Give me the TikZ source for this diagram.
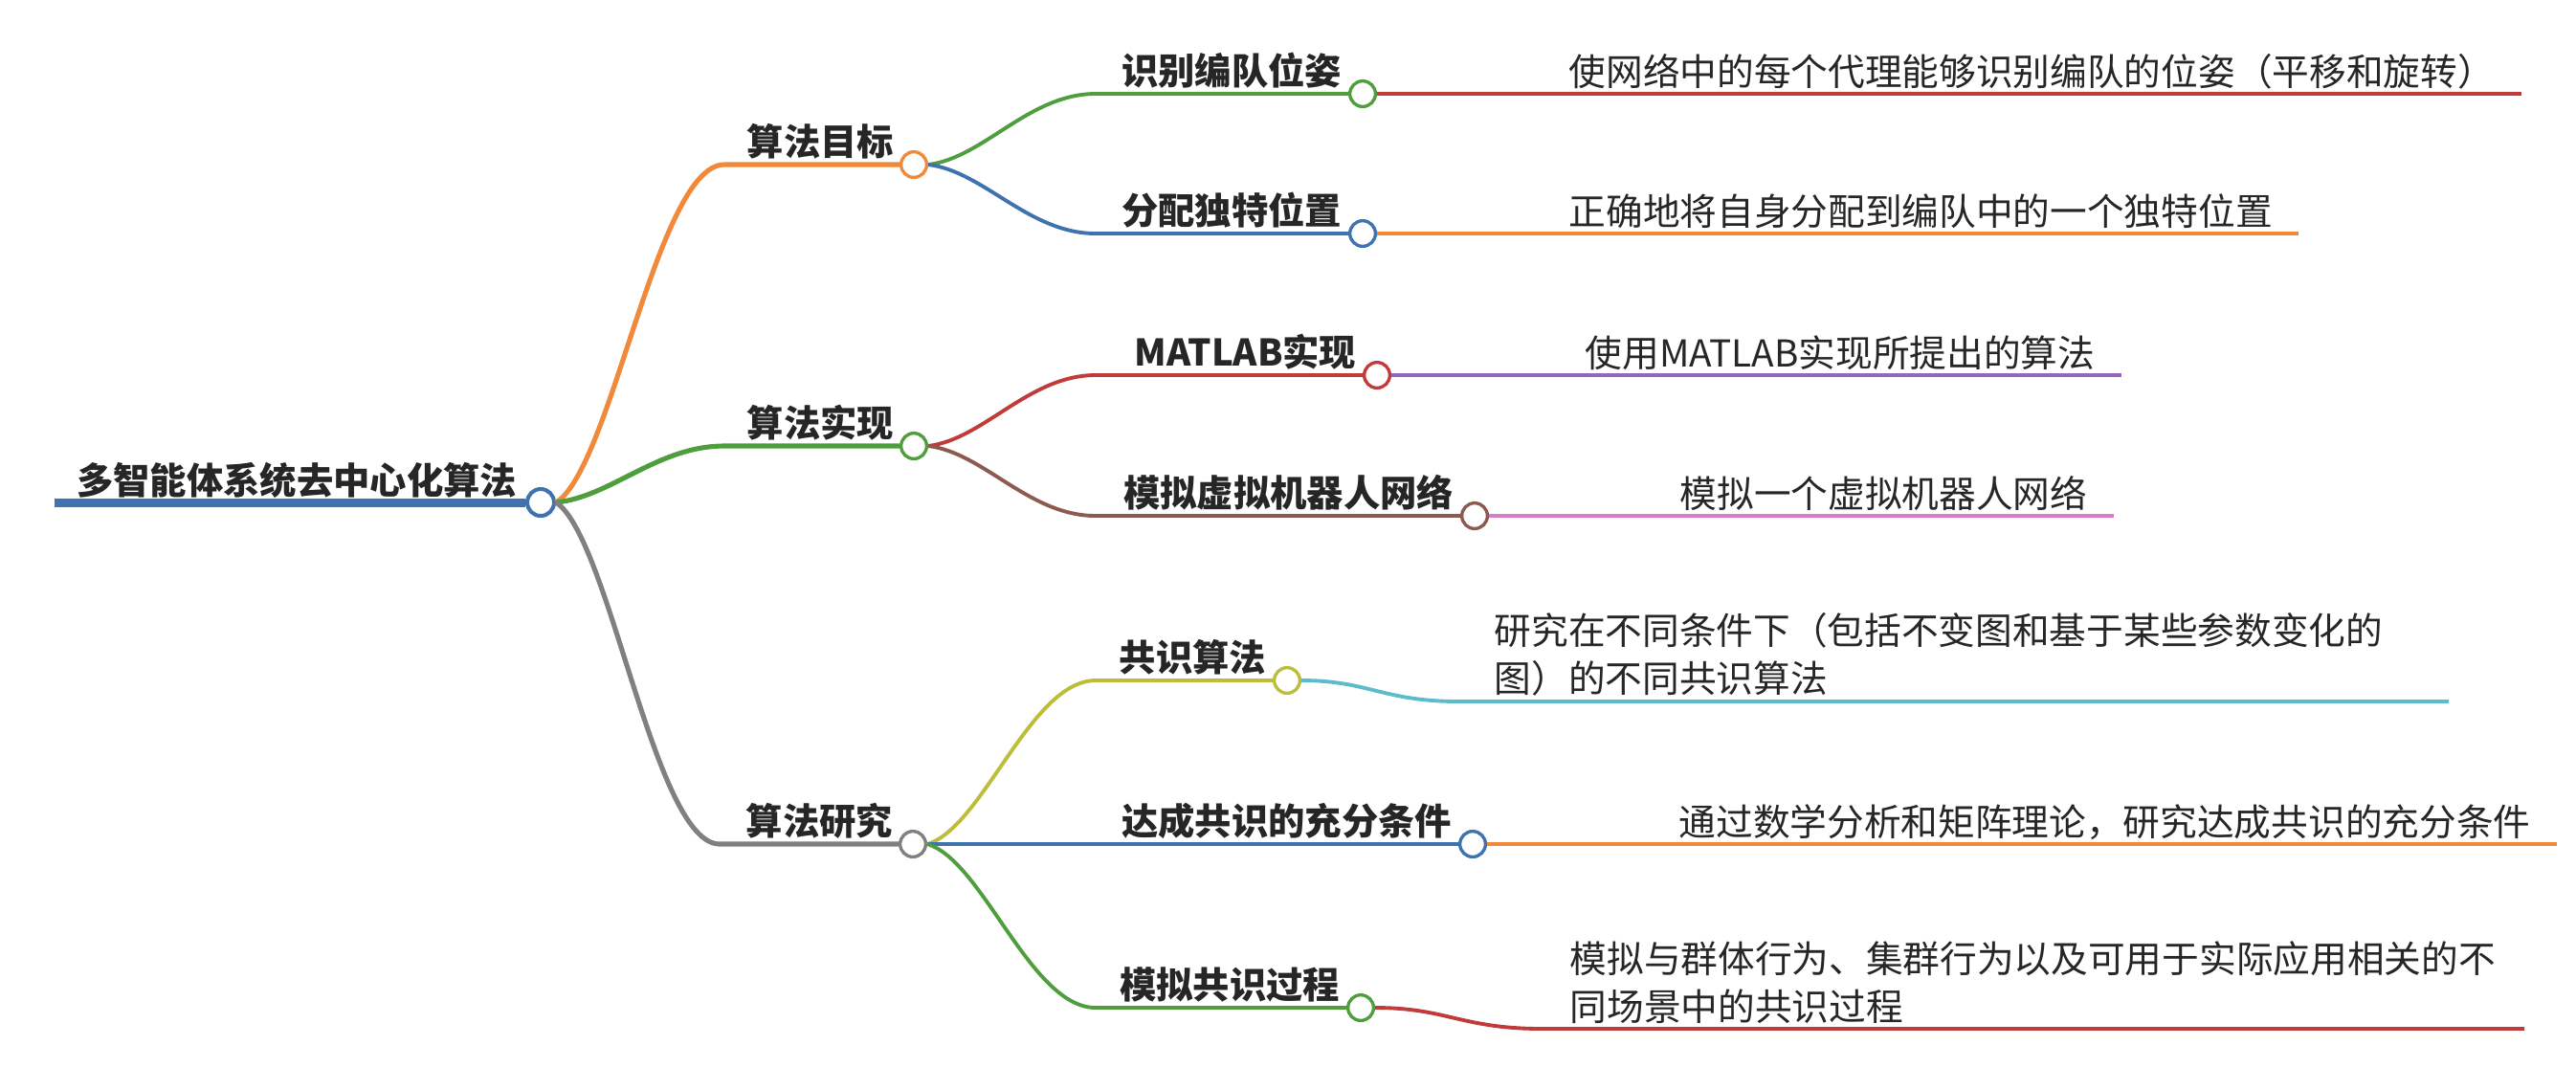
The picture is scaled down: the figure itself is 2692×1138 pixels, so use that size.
\documentclass[tikz,border=0pt]{standalone}
\usepackage{fontspec}
\setmainfont{Noto Sans CJK SC}
\usepackage{tikz}
\usetikzlibrary{positioning,calc}
\definecolor{mapblue}{HTML}{3F73AF}
\definecolor{maporange}{HTML}{F08A3A}
\definecolor{mapgreen}{HTML}{4F9E3E}
\definecolor{mapred}{HTML}{C23B3B}
\definecolor{mappurple}{HTML}{9467BD}
\definecolor{mapbrown}{HTML}{8C5A4E}
\definecolor{mappink}{HTML}{D97DC6}
\definecolor{mapgray}{HTML}{808080}
\definecolor{mapolive}{HTML}{BDBD3C}
\definecolor{mapcyan}{HTML}{5BBDCB}
\definecolor{maptext}{HTML}{262626}

\begin{document}
\begin{tikzpicture}[
  x=0.01cm, y=-0.01cm,
  dot/.style={circle, draw, fill=white, line width=0.95pt, minimum size=0.267cm, inner sep=0pt},
  topic/.style={font=\fontsize{10.9}{13}\selectfont\bfseries, text=maptext, inner sep=0pt, anchor=base east},
  leaf/.style={font=\fontsize{11}{14.2}\selectfont, text=maptext, inner sep=0pt, anchor=base west},
  wrapleaf/.style={leaf, anchor=south west, text width=9.96cm, align=left},
  trunk/.style={line width=1.45pt},
  twig/.style={line width=1.1pt}
]

\useasboundingbox (0,0) rectangle (2692,1138);

% central topic
\node[dot, draw=mapblue, line width=1.15pt, minimum size=0.28cm] (root) at (565,525) {};
\node[topic] (roottxt) at ($(root.west)+(-8,-9)$) {多智能体系统去中心化算法};
\coordinate (rootend) at (57,525);
\draw[line width=2.55pt, mapblue] (rootend) -- (root);

% main branches
\node[dot, draw=maporange] (goal) at (955,172) {};
\node[dot, draw=mapgreen] (impl) at (955,466) {};
\node[dot, draw=mapgray] (study) at (954,882) {};
\node[topic] (goaltxt) at ($(goal.west)+(-5,-10)$) {算法目标};
\node[topic] (impltxt) at ($(impl.west)+(-5,-10)$) {算法实现};
\node[topic] (studytxt) at ($(study.west)+(-5,-10)$) {算法研究};
\coordinate (goalk) at (757,172);
\coordinate (implk) at (757,466);
\coordinate (studyk) at (752,882);

\draw[trunk, maporange] (root.east) .. controls +(58,-35) and +(-70,0) .. (goalk) -- (goal);
\draw[trunk, mapgreen] (root.east) .. controls +(58,-6) and +(-70,0) .. (implk) -- (impl);
\draw[trunk, mapgray] (root.east) .. controls +(56,36) and +(-68,0) .. (studyk) -- (study);

% sub topics
\node[dot, draw=mapgreen] (pose) at (1424,98) {};
\node[dot, draw=mapblue] (slot) at (1424,244) {};
\node[dot, draw=mapred] (matlab) at (1439,392) {};
\node[dot, draw=mapbrown] (robots) at (1541,539) {};
\node[dot, draw=mapolive] (consensus) at (1345,711) {};
\node[dot, draw=mapblue] (suffcond) at (1539,882) {};
\node[dot, draw=mapgreen] (simproc) at (1422,1053) {};

\node[topic] (posetxt) at ($(pose.west)+(-6,-10)$) {识别编队位姿};
\node[topic] (slottxt) at ($(slot.west)+(-6,-10)$) {分配独特位置};
\node[topic] (matlabtxt) at ($(matlab.west)+(-6,-10)$) {MATLAB实现};
\node[topic] (robotstxt) at ($(robots.west)+(-6,-10)$) {模拟虚拟机器人网络};
\node[topic] (consensustxt) at ($(consensus.west)+(-6,-10)$) {共识算法};
\node[topic] (suffcondtxt) at ($(suffcond.west)+(-6,-10)$) {达成共识的充分条件};
\node[topic] (simproctxt) at ($(simproc.west)+(-6,-10)$) {模拟共识过程};

\coordinate (posek) at (1145,98);
\coordinate (slotk) at (1145,244);
\coordinate (matlabk) at (1145,392);
\coordinate (robotsk) at (1145,539);
\coordinate (consensusk) at (1145,711);
\coordinate (simprock) at (1145,1053);

\draw[twig, mapgreen] (goal.east) .. controls +(58,-7) and +(-70,0) .. (posek) -- (pose);
\draw[twig, mapblue] (goal.east) .. controls +(58,7) and +(-70,0) .. (slotk) -- (slot);
\draw[twig, mapred] (impl.east) .. controls +(58,-7) and +(-70,0) .. (matlabk) -- (matlab);
\draw[twig, mapbrown] (impl.east) .. controls +(58,7) and +(-70,0) .. (robotsk) -- (robots);
\draw[twig, mapolive] (study.east) .. controls +(58,-17) and +(-68,0) .. (consensusk) -- (consensus);
\draw[twig, mapblue] (study) -- (suffcond);
\draw[twig, mapgreen] (study.east) .. controls +(58,17) and +(-68,0) .. (simprock) -- (simproc);

% details
\node[leaf] (posetip) at ($(pose.center)+(215,-9)$) {使网络中的每个代理能够识别编队的位姿（平移和旋转）};
\node[leaf] (slottip) at ($(slot.center)+(215,-9)$) {正确地将自身分配到编队中的一个独特位置};
\node[leaf] (matlabtip) at ($(matlab.center)+(217,-9)$) {使用MATLAB实现所提出的算法};
\node[leaf] (robotstip) at ($(robots.center)+(214,-9)$) {模拟一个虚拟机器人网络};
\node[wrapleaf] (consensustip) at ($(consensus.center)+(216,17)$) {研究在不同条件下（包括不变图和基于某些参数变化的\\图）的不同共识算法};
\node[leaf] (suffcondtip) at ($(suffcond.center)+(215,-9)$) {通过数学分析和矩阵理论，研究达成共识的充分条件};
\node[wrapleaf] (simproctip) at ($(simproc.center)+(218,17)$) {模拟与群体行为、集群行为以及可用于实际应用相关的不\\同场景中的共识过程};

\coordinate (poseend) at ($(posetip.base east)+(27,9)$);
\coordinate (slotend) at ($(slottip.base east)+(27,9)$);
\coordinate (matlabend) at ($(matlabtip.base east)+(27,9)$);
\coordinate (robotsend) at ($(robotstip.base east)+(27,9)$);
\coordinate (suffcondend) at ($(suffcondtip.base east)+(27,9)$);
\coordinate (consensusbend) at ($(consensus.center)+(180,22)$);
\coordinate (simprocbend) at ($(simproc.center)+(190,22)$);

\draw[twig, mapred] (pose) -- (poseend);
\draw[twig, maporange] (slot) -- (slotend);
\draw[twig, mappurple] (matlab) -- (matlabend);
\draw[twig, mappink] (robots) -- (robotsend);
\draw[twig, maporange] (suffcond) -- (suffcondend);
\draw[twig, mapcyan] (consensus.east) .. controls +(70,0) and +(-80,0) .. (consensusbend) -- (consensusbend -| consensustip.east);
\draw[twig, mapred] (simproc.east) .. controls +(75,0) and +(-85,0) .. (simprocbend) -- (simprocbend -| simproctip.east);

\end{tikzpicture}
\end{document}
